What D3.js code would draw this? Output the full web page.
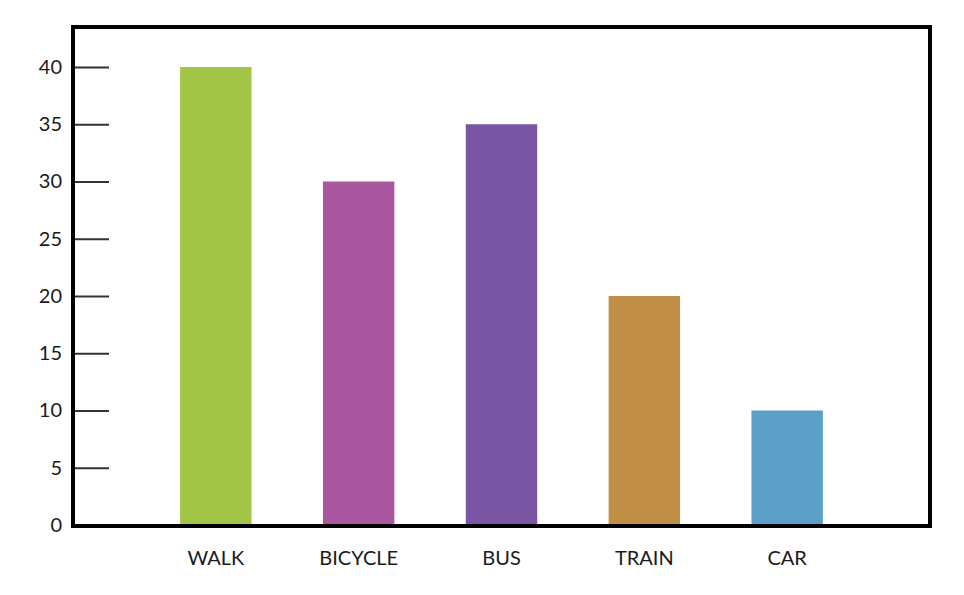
<!DOCTYPE html>
<html>
<head>
<meta charset="utf-8">
<script src="https://cdn.jsdelivr.net/npm/d3@7"></script>
<style>
  body { margin: 0; background: #fff; }
  text { font-family: Lato, "Open Sans", sans-serif; fill: #1a1a1a; }
</style>
</head>
<body>
<div id="chart"></div>
<script>
!(function(){
    "use strict"

    var categories = ["WALK", "BICYCLE", "BUS", "TRAIN", "CAR"]
    var values = [40, 30, 35, 20, 10]
    var colors = ["#a2c545", "#a9579e", "#7a55a3", "#c08f45", "#5a9fc8"]
    var yTicks = [0, 5, 10, 15, 20, 25, 30, 35, 40]

    var width = 964, height = 595
    var frame = {left: 73, right: 930, top: 27, bottom: 526}

    var svg = d3.select("#chart").append("svg")
        .attr("width", width).attr("height", height)

    var x = d3.scaleBand()
        .domain(categories)
        .range([frame.left, frame.right])
        .paddingInner(0.5)
        .paddingOuter(0.75)

    var y = d3.scaleLinear()
        .domain([0, 40])
        .range([525, 67])

    // bars
    svg.append("g").selectAll("rect")
        .data(values)
        .enter().append("rect")
        .attr("x", function(d, i) { return x(categories[i]) })
        .attr("width", x.bandwidth())
        .attr("y", function(d) { return y(d) })
        .attr("height", function(d) { return y(0) - y(d) })
        .attr("fill", function(d, i) { return colors[i] })

    // y axis, ticks pointing inward
    var yAxis = svg.append("g")
        .attr("transform", "translate(" + (frame.left + 2) + ",0)")
        .call(d3.axisLeft(y).tickValues(yTicks).tickSize(-34).tickPadding(13))
    yAxis.select(".domain").remove()
    yAxis.selectAll("line").attr("stroke", "#333").attr("stroke-width", 2)
    yAxis.selectAll("text").attr("font-size", 20).style("font-family", "Lato, sans-serif").attr("fill", "#1a1a1a")

    // x labels
    var xAxis = svg.append("g")
        .attr("transform", "translate(0," + frame.bottom + ")")
        .call(d3.axisBottom(x).tickSize(0).tickPadding(25))
    xAxis.select(".domain").remove()
    xAxis.selectAll("text").attr("font-size", 20).style("font-family", "Lato, sans-serif").attr("fill", "#1a1a1a")

    // frame
    svg.append("rect")
        .attr("x", frame.left)
        .attr("y", frame.top)
        .attr("width", frame.right - frame.left)
        .attr("height", frame.bottom - frame.top)
        .attr("fill", "none")
        .attr("stroke", "#000")
        .attr("stroke-width", 4)
}());
</script>
</body>
</html>
